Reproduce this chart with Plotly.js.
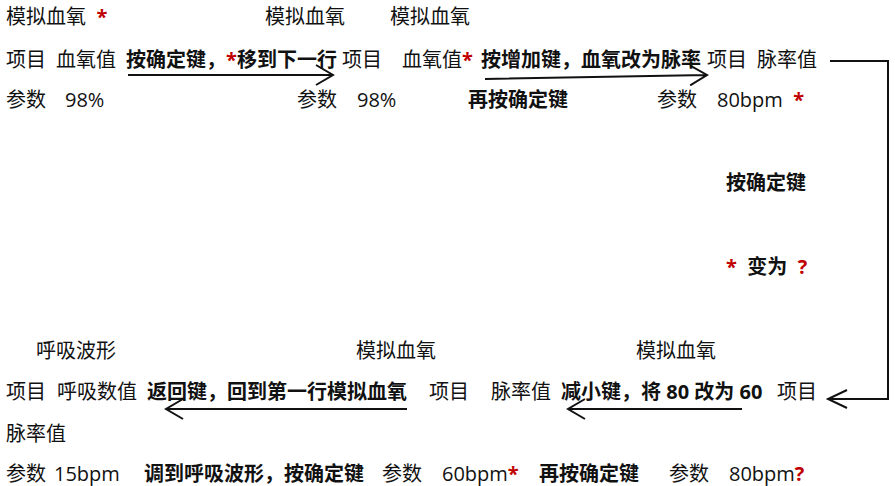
<!DOCTYPE html>
<html><head><meta charset="utf-8">
<script src="https://cdn.plot.ly/plotly-3.0.1.min.js"></script>
<style>html,body{margin:0;padding:0;background:#fff}#chart{width:895px;height:486px}</style>
</head><body><div id="chart"></div>
<script>
// ---- content (texts) ----
const R = s => '<span style="color:#c00000"><b>' + s + '</b></span>';
const screenTitles = ['模拟血氧  ' + R('*'), '模拟血氧', '模拟血氧', '呼吸波形', '模拟血氧', '模拟血氧'];
const itemLabels   = ['项目', '血氧值', '项目', '血氧值' + R('*'), '项目', '脉率值',
                      '项目', '呼吸数值', '项目', '脉率值', '项目', '脉率值'];
const paramLabels  = ['参数', '98%', '参数', '98%', '参数', '80bpm  ' + R('*'),
                      '参数', '15bpm', '参数', '60bpm' + R('*'), '参数', '80bpm' + R('?')];
const actionLabels = ['按确定键，' + R('*') + '移到下一行', '按增加键，血氧改为脉率', '再按确定键',
                      '按确定键', R('*') + '  变为  ' + R('?'),
                      '返回键，回到第一行模拟血氧', '减小键，将 80 改为 60', '调到呼吸波形，按确定键', '再按确定键'];

// ---- placement (layout only) ----
const screenPos = [[7,16],[266,16],[391,16],[37,350],[357,350],[637,350]];
const itemPos   = [[7,59],[57,59],[343,59],[403,59],[708,59],[758,59],
                   [7,391],[58,391],[430,391],[492,391],[778,391],[7,433]];
const paramPos  = [[7,99],[66,99],[298,99],[358,99],[658,99],[718,99],
                   [7,473],[55,473],[383,473],[443,473],[670,473],[730,473]];
const actionPos = [[127,59],[482,59],[469,99],[727,182],[727,266],
                   [148,391],[562,391],[145,473],[540,473]];

// arrows: [x0,y0,x1,y1] straight arrows with open heads at (x1,y1)
const arrows = [[128,75,333,75],[485,79,707,75],[407,409,166,409],[742,409,568,409]];
// elbow connector
const connector = [[830,61],[888,61],[888,399],[828,399]];

const FONT = {family: "'Open Sans', 'Noto Sans CJK SC', sans-serif", size: 20, color: '#111'};
const anns = [];
function add(texts, pos, bold) {
  texts.forEach((t, i) => anns.push({
    text: bold ? '<b>' + t + '</b>' : t, x: pos[i][0], y: pos[i][1],
    xref: 'x', yref: 'y', xanchor: 'left', yanchor: 'middle', showarrow: false,
    borderpad: 0, borderwidth: 0, xshift: -1, font: FONT
  }));
}
add(screenTitles, screenPos, false);
add(itemLabels, itemPos, false);
add(paramLabels, paramPos, false);
add(actionLabels, actionPos, true);

function head(x1, y1, dx, dy, len, hw) {
  const L = Math.hypot(dx, dy), ux = dx / L, uy = dy / L;
  const bx = x1 - ux * len, by = y1 - uy * len;
  return ' M' + (bx - uy * hw) + ',' + (by + ux * hw) + ' L' + x1 + ',' + y1 +
         ' L' + (bx + uy * hw) + ',' + (by - ux * hw);
}
const shapes = arrows.map(a => ({
  type: 'path', xref: 'x', yref: 'y',
  path: 'M' + a[0] + ',' + a[1] + ' L' + a[2] + ',' + a[3] + head(a[2], a[3], a[2] - a[0], a[3] - a[1], 17, 10),
  line: {color: '#111', width: 2}
}));
const c = connector;
shapes.push({
  type: 'path', xref: 'x', yref: 'y',
  path: 'M' + c.map(p => p.join(',')).join(' L') + head(c[3][0], c[3][1], -1, 0, 19, 9),
  line: {color: '#111', width: 2}
});

Plotly.newPlot('chart', [], {
  width: 895, height: 486, margin: {l: 0, r: 0, t: 0, b: 0},
  paper_bgcolor: '#fff', plot_bgcolor: '#fff',
  xaxis: {range: [0, 895], visible: false, fixedrange: true},
  yaxis: {range: [486, 0], visible: false, fixedrange: true},
  annotations: anns, shapes: shapes, showlegend: false
}, {staticPlot: true});
</script></body></html>
